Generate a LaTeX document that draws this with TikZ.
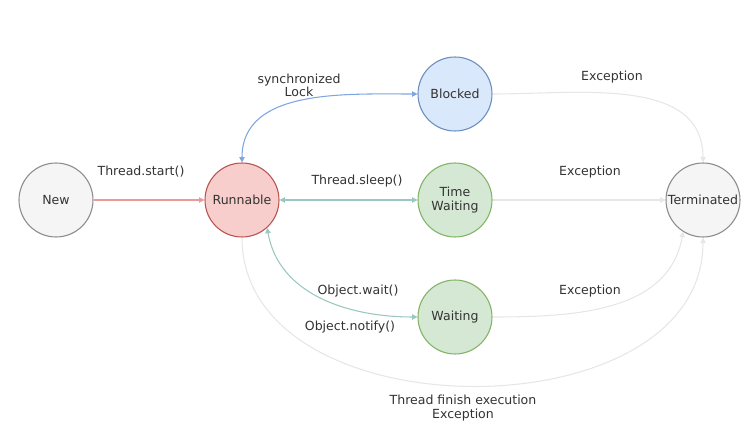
\documentclass[tikz,border=0pt]{standalone}
\usepackage{fontspec}
\setmainfont{DejaVu Sans}
\usetikzlibrary{arrows.meta}
\definecolor{txt}{HTML}{333333}
\definecolor{greyfill}{HTML}{F5F5F5}
\definecolor{greydraw}{HTML}{8C8C8C}
\definecolor{redfill}{HTML}{F8CECC}
\definecolor{reddraw}{HTML}{B85450}
\definecolor{bluefill}{HTML}{DAE8FC}
\definecolor{bluedraw}{HTML}{6C8EBF}
\definecolor{greenfill}{HTML}{D5E8D4}
\definecolor{greendraw}{HTML}{82B366}
\definecolor{redline}{HTML}{EA9A98}
\definecolor{blueline}{HTML}{7EA6E0}
\definecolor{tealline}{HTML}{9AC7BF}
\definecolor{faintline}{HTML}{E6E6E6}
\begin{document}
\begin{tikzpicture}[x=0.75pt,y=-0.75pt,
    state/.style={circle,draw,minimum size=55.5pt,inner sep=0pt,line width=0.8pt,
      text=txt,align=center,font=\fontsize{9.4}{11}\selectfont},
    lbl/.style={text=txt,align=center,font=\fontsize{9.4}{11}\selectfont},
    link/.style={line width=0.8pt,-{Triangle[length=4pt,width=4pt]}},
    both/.style={line width=0.8pt,{Triangle[length=4pt,width=4pt]}-{Triangle[length=4pt,width=4pt]}}]
  \useasboundingbox (0,0) rectangle (754,431);
  % states
  \node[state,fill=greyfill,draw=greydraw] (new) at (56,200) {New};
  \node[state,fill=redfill,draw=reddraw] (run) at (242,200) {Runnable};
  \node[state,fill=bluefill,draw=bluedraw] (blk) at (455,94) {Blocked};
  \node[state,fill=greenfill,draw=greendraw] (tw) at (455,200) {Time\\Waiting};
  \node[state,fill=greenfill,draw=greendraw] (wait) at (455,317) {Waiting};
  \node[state,fill=greyfill,draw=greydraw] (term) at (703,200) {Terminated};
  % transitions
  \draw[link,redline] (new) -- (run);
  \draw[both,blueline] (run.north) to[out=90,in=180] (blk.west);
  \draw[both,tealline] (run) -- (tw);
  \draw[both,tealline] (run.-48) to[out=-80,in=180] (wait.west);
  \draw[link,faintline] (blk.east) to[out=0,in=90] (term.north);
  \draw[link,faintline] (tw) -- (term);
  \draw[link,faintline] (wait.east) to[out=0,in=-100] (term.-122);
  \draw[link,faintline] (run.south) to[out=-90,in=-90,looseness=1.1] (term.south);
  % labels
  \node[lbl] (l1) at (141,172) {Thread.start()};
  \node[lbl] (l2) at (299,85) {synchronized\\[-1pt]Lock};
  \node[lbl] (l3) at (357,181) {Thread.sleep()};
  \node[lbl] (l4) at (358,291) {Object.wait()};
  \node[lbl] (l5) at (350,327) {Object.notify()};
  \node[lbl] (l6) at (612,77) {Exception};
  \node[lbl] (l7) at (590,172) {Exception};
  \node[lbl] (l8) at (590,291) {Exception};
  \node[lbl] (l9) at (463,408) {Thread finish execution\\[-1pt]Exception};
\end{tikzpicture}
\end{document}
